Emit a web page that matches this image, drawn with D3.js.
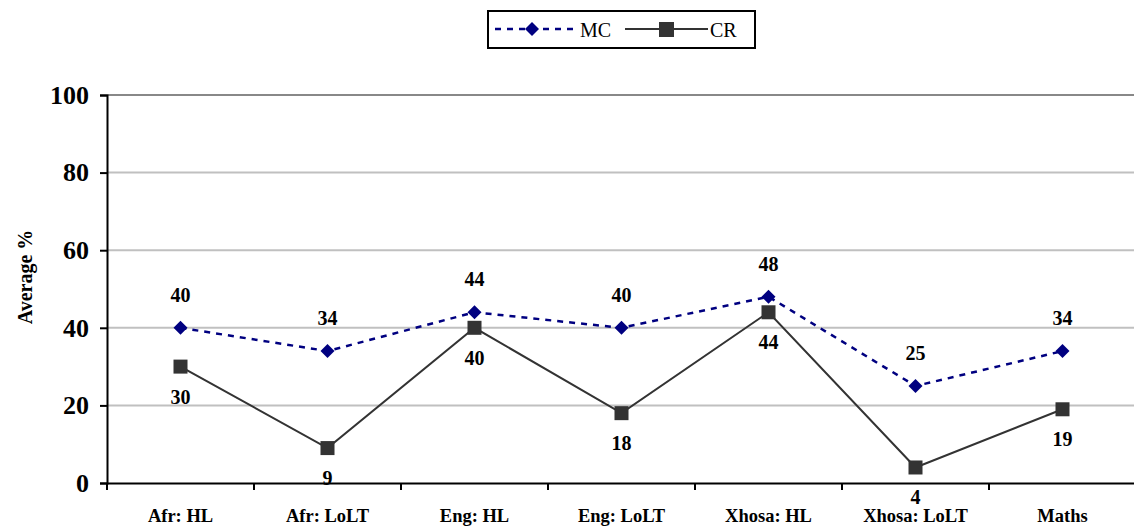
<!DOCTYPE html>
<html><head><meta charset="utf-8">
<script src="https://cdn.jsdelivr.net/npm/d3@7"></script>
</head><body style="margin:0;background:#fff">
<svg id="c" width="1134" height="527" font-family="Liberation Serif" style="font-family:'Liberation Serif'"></svg>
<script>
const categories = ["Afr: HL","Afr: LoLT","Eng: HL","Eng: LoLT","Xhosa: HL","Xhosa: LoLT","Maths"];
const mcValues = [40,34,44,40,48,25,34];
const crValues = [30,9,40,18,44,4,19];
const yTicks = [0,20,40,60,80,100];

const svg = d3.select("#c");
const pLeft = 107, pRight = 1136, pTop = 95, pBottom = 483;
const x = d3.scaleBand().domain(categories).range([pLeft,pRight]).paddingInner(0).paddingOuter(0);
const y = d3.scaleLinear().domain([0,100]).range([pBottom,pTop]);
const cx = c => x(c) + x.bandwidth()/2;
function serif(sel, size, bold){
  return sel.style("font-family",'"Liberation Serif"').style("font-size",size+"px").style("font-weight",bold?"bold":"normal");
}

// gridlines
svg.append("g").selectAll("line").data(yTicks.filter(t=>t>0)).join("line")
  .attr("x1",pLeft).attr("x2",1134).attr("y1",d=>y(d)).attr("y2",d=>y(d))
  .attr("stroke",d=>d===100?"#888":"#c0c0c0").attr("stroke-width",2);

// y axis
const ya = svg.append("g").attr("transform",`translate(${pLeft},0)`)
  .call(d3.axisLeft(y).tickValues(yTicks).tickSize(7).tickPadding(11));
ya.attr("font-family",null).attr("font-size",null);
ya.select(".domain").attr("stroke","#000").attr("stroke-width",2);
ya.selectAll(".tick line").attr("stroke","#000").attr("stroke-width",2);
serif(ya.selectAll("text"),26,true).attr("fill","#000");

// x axis
const xa = svg.append("g").attr("transform",`translate(0,${pBottom})`)
  .call(d3.axisBottom(x).tickSize(0).tickPadding(26));
xa.attr("font-family",null).attr("font-size",null);
xa.select(".domain").attr("stroke","#000").attr("stroke-width",2);
serif(xa.selectAll("text"),18.5,true).attr("fill","#000");
svg.append("g").selectAll("line").data(categories).join("line")
  .attr("x1",d=>x(d)).attr("x2",d=>x(d)).attr("y1",pBottom).attr("y2",pBottom+7)
  .attr("stroke","#000").attr("stroke-width",2);

// axis title
serif(svg.append("text").attr("transform",`translate(27,277) rotate(-90)`)
  .attr("text-anchor","middle").attr("dominant-baseline","middle"),20,true).text("Average %");

// lines
const line = d3.line().x((d,i)=>cx(categories[i])).y(d=>y(d));
svg.append("path").datum(crValues).attr("d",line).attr("fill","none").attr("stroke","#333").attr("stroke-width",2);
svg.append("path").datum(mcValues).attr("d",line).attr("fill","none").attr("stroke","#000080").attr("stroke-width",2.5).attr("stroke-dasharray","6,6");

// markers
svg.append("g").selectAll("rect").data(crValues).join("rect")
  .attr("x",(d,i)=>cx(categories[i])-7).attr("y",d=>y(d)-7).attr("width",14).attr("height",14).attr("fill","#333");
svg.append("g").selectAll("path").data(mcValues).join("path")
  .attr("d",(d,i)=>{const px=cx(categories[i]),py=y(d);return `M${px},${py-7}L${px+7},${py}L${px},${py+7}L${px-7},${py}Z`;})
  .attr("fill","#000080");

// labels
serif(svg.append("g").selectAll("text").data(mcValues).join("text")
  .attr("x",(d,i)=>cx(categories[i])).attr("y",d=>y(d)-33).attr("text-anchor","middle").attr("dominant-baseline","central"),20,true).text(d=>d);
serif(svg.append("g").selectAll("text").data(crValues).join("text")
  .attr("x",(d,i)=>cx(categories[i])).attr("y",d=>y(d)+30).attr("text-anchor","middle").attr("dominant-baseline","central"),20,true).text(d=>d);

// legend
const lg = svg.append("g");
lg.append("rect").attr("x",488).attr("y",11).attr("width",267).attr("height",37).attr("fill","#fff").attr("stroke","#000").attr("stroke-width",2);
lg.append("line").attr("x1",495).attr("x2",578).attr("y1",29).attr("y2",29).attr("stroke","#000080").attr("stroke-width",2.5).attr("stroke-dasharray","6,6");
lg.append("path").attr("d","M532,22L539,29L532,36L525,29Z").attr("fill","#000080");
serif(lg.append("text").attr("x",580).attr("y",30).attr("dominant-baseline","central"),20,false).text("MC");
lg.append("line").attr("x1",625).attr("x2",708).attr("y1",29).attr("y2",29).attr("stroke","#333").attr("stroke-width",2);
lg.append("rect").attr("x",659).attr("y",22).attr("width",15).attr("height",15).attr("fill","#333");
serif(lg.append("text").attr("x",710).attr("y",30).attr("dominant-baseline","central"),20,false).text("CR");
</script>
</body></html>
